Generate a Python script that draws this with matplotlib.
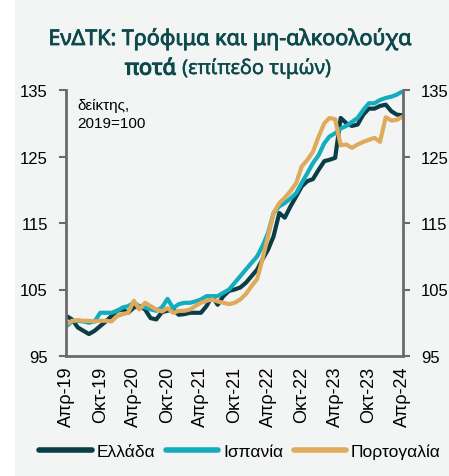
import matplotlib
matplotlib.use("Agg")
import matplotlib.pyplot as plt
import matplotlib.patheffects as pe
import numpy as np
import pandas as pd
from matplotlib.patches import Rectangle

dates = pd.date_range("2019-04-01", "2024-04-01", freq="MS")

greece = [101.0, 100.5, 99.3, 98.8, 98.3, 98.8, 99.5, 100.2, 101.0, 101.8,
          102.0, 101.5, 102.3, 102.5, 102.0, 100.7, 100.5, 101.6, 101.8, 102.0,
          101.2, 101.3, 101.5, 101.5, 101.5, 102.5, 104.0, 102.7, 104.0, 104.8,
          105.0, 105.3, 106.0, 107.0, 108.0, 109.5, 111.0, 113.0, 116.5, 115.8,
          117.5, 119.0, 120.5, 121.3, 121.6, 123.0, 124.3, 124.5, 124.8, 130.8,
          130.0, 129.6, 129.8, 131.3, 132.2, 132.2, 132.6, 132.8, 131.8, 131.3,
          131.2]

spain = [99.5, 100.2, 100.3, 100.2, 100.0, 100.2, 101.5, 101.5, 101.5, 101.8,
         102.3, 102.5, 103.0, 102.5, 102.3, 102.0, 101.8, 102.3, 103.6, 102.2,
         102.8, 103.0, 103.0, 103.2, 103.5, 104.0, 104.0, 104.0, 104.5, 105.0,
         106.0, 107.0, 108.0, 109.0, 110.0, 111.5, 113.5, 116.5, 117.5, 118.0,
         118.7, 119.5, 121.0, 122.5, 124.0, 125.2, 127.0, 128.0, 128.5, 129.2,
         129.6, 130.2, 130.8, 132.0, 133.0, 133.0, 133.5, 133.8, 134.0, 134.3,
         134.8]

portugal = [99.8, 100.3, 100.4, 100.3, 100.3, 100.2, 100.3, 100.3, 100.2, 101.0,
            101.3, 101.5, 103.3, 102.0, 103.0, 102.5, 102.0, 101.7, 102.2, 101.5,
            101.8, 101.8, 102.0, 102.5, 103.0, 103.3, 103.5, 103.2, 103.0, 102.8,
            103.0, 103.5, 104.3, 105.5, 106.6, 109.5, 113.0, 116.5, 118.0, 118.8,
            119.8, 121.0, 123.5, 124.5, 125.7, 128.0, 130.0, 130.8, 130.6, 126.7,
            126.8, 126.3, 126.8, 127.2, 127.5, 127.8, 127.2, 130.9, 130.4, 130.5,
            131.0]

series_names = ["Ελλάδα", "Ισπανία", "Πορτογαλία"]
colors = ["#0b3d46", "#13adbd", "#dfaa5c"]

yticks = [95, 105, 115, 125, 135]
xtick_dates = pd.date_range("2019-04-01", "2024-04-01", freq="6MS")
xtick_labels = ["Απρ-19", "Οκτ-19", "Απρ-20", "Οκτ-20", "Απρ-21", "Οκτ-21",
                "Απρ-22", "Οκτ-22", "Απρ-23", "Οκτ-23", "Απρ-24"]

W, H = 449, 477
fig = plt.figure(figsize=(W / 100, H / 100), dpi=100, facecolor="white")
bg = Rectangle((15 / W, 0), 1 - 15 / W, 1, transform=fig.transFigure,
               facecolor="#f3f5f5", edgecolor="none", zorder=-10)
fig.add_artist(bg)

ax = fig.add_axes([66 / W, 1 - 357 / H, (403 - 66) / W, (357 - 91) / H])
ax.set_facecolor("none")
ax.set_zorder(5)

for vals, name, c in zip([greece, spain, portugal], series_names, colors):
    ax.plot(dates, vals, color=c, lw=3.0, label=name, solid_capstyle="butt")

ax.set_ylim(95, 135)
ax.set_xlim(dates[0] - pd.Timedelta(days=3), dates[-1] + pd.Timedelta(days=3))
ax.set_yticks(yticks)
ax.set_yticklabels([str(v) for v in yticks])
ax.set_xticks(xtick_dates)
ax.set_xticklabels(xtick_labels, rotation=90, fontsize=13, family="Liberation Sans")
ax.tick_params(axis="x", length=0, pad=7)
ax.tick_params(axis="y", length=5, width=1.5, color="#6b6b6b", pad=8,
               left=True, right=True, labelleft=True, labelright=True)
for t in ax.yaxis.get_major_ticks():
    for lab in (t.label1, t.label2):
        lab.set_family("Liberation Sans")
        lab.set_fontsize(12)
for s in ["left", "right", "bottom"]:
    ax.spines[s].set_color("#6b6b6b")
    ax.spines[s].set_linewidth(2)
ax.spines["top"].set_visible(False)

ax.text(11 / 337, 1 - 8 / 266, "δείκτης,\n2019=100", transform=ax.transAxes, ha="left", va="top",
        fontsize=11, family="Liberation Sans", linespacing=1.35)

tcol = "#0d4a4c"
fig.text(230 / W, 1 - 40 / H, "ΕνΔΤΚ: Τρόφιμα και μη-αλκοολούχα", ha="center", va="center",
         fontsize=15.5, color=tcol, family="Noto Sans",
         path_effects=[pe.withStroke(linewidth=0.6, foreground=tcol)])
t1 = fig.text(0, 1 - 70 / H, "ποτά", ha="left", va="center",
              fontsize=15.5, color=tcol, family="Noto Sans",
              path_effects=[pe.withStroke(linewidth=0.9, foreground=tcol)])
t2 = fig.text(0, 1 - 70 / H, "(επίπεδο τιμών)", ha="left", va="center",
              fontsize=14.5, color=tcol, family="Noto Sans",
              path_effects=[pe.withStroke(linewidth=0.3, foreground=tcol)])
fig.canvas.draw()
r = fig.canvas.get_renderer()
w1 = t1.get_window_extent(r).width
w2 = t2.get_window_extent(r).width
gap = 6
total = w1 + gap + w2
x0 = 228 - total / 2
t1.set_x(x0 / W)
t2.set_x((x0 + w1 + gap) / W)

leg = fig.legend(loc="center", bbox_to_anchor=(0.535, 1 - 452 / H), ncol=3, frameon=False,
                 handlelength=3.0, handletextpad=0.3, columnspacing=0.6,
                 prop={"family": "Liberation Sans", "size": 12.5})
for h in leg.get_lines():
    h.set_linewidth(4)
    h.set_solid_capstyle("round")

fig.savefig("out.png", dpi=100, facecolor="white")
